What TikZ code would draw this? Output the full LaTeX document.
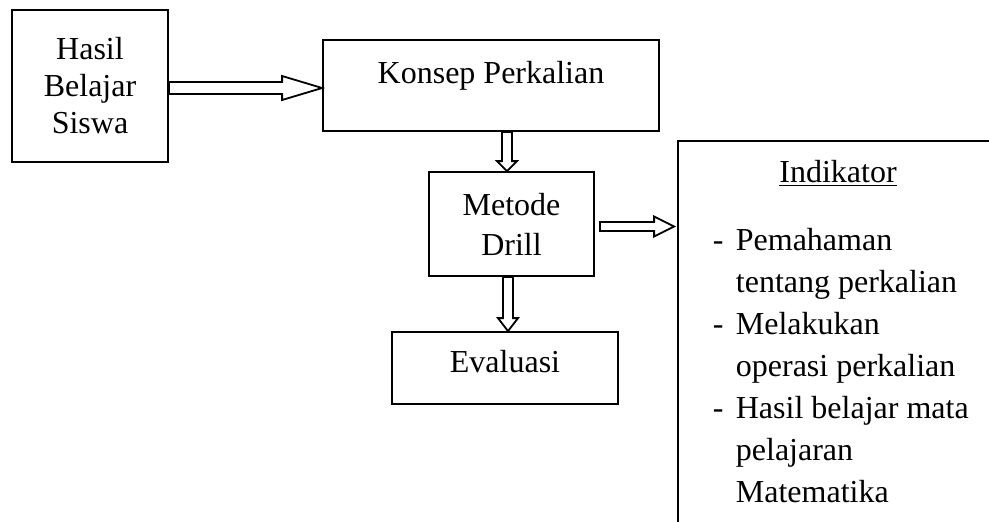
\documentclass[tikz,border=0pt]{standalone}
\usepackage{fontspec}
\setmainfont{Liberation Serif}
\usetikzlibrary{calc}

% hollow block arrows: from, to, head length, half shaft, half head
\newcommand{\fatright}[5]{%
  \draw[fill=white] let \p1=(#1), \p2=(#2) in
    (\x1,\y2+#4) -- (\x2-#3,\y2+#4) -- (\x2-#3,\y2+#5) -- (\x2,\y2)
    -- (\x2-#3,\y2-#5) -- (\x2-#3,\y2-#4) -- (\x1,\y2-#4) -- cycle;}
\newcommand{\fatdown}[5]{%
  \draw[fill=white] let \p1=(#1), \p2=(#2) in
    (\x2-#4,\y1) -- (\x2-#4,\y2+#3) -- (\x2-#5,\y2+#3) -- (\x2,\y2)
    -- (\x2+#5,\y2+#3) -- (\x2+#4,\y2+#3) -- (\x2+#4,\y1) -- cycle;}

\begin{document}
\begin{tikzpicture}[
        x=0.5pt, y=-0.5pt,
        line width=0.9pt,
        every node/.style={font=\fontsize{16}{18.5}\selectfont, inner sep=0pt},
        box/.style={draw, align=center}
    ]
        \useasboundingbox (0,0) rectangle (989,521);
        \node[box, minimum width=78pt, minimum height=76pt] (hasil) at (90,86) {Hasil\\Belajar\\Siswa};
        \node[box, minimum width=168pt, minimum height=45.5pt,
              text height=11pt, text depth=13.5pt] (konsep) at (491,85.5) {Konsep Perkalian};
        \node[box, minimum width=82.5pt, minimum height=52pt,
              font=\fontsize{16}{20}\selectfont] (drill) at (511.5,224) {Metode\\Drill};
        \node[box, minimum width=113pt, minimum height=36pt,
              text height=11pt, text depth=7pt] (eval) at (505,368) {Evaluasi};
        \begin{scope}
            \clip (0,0) rectangle (989,521);
            \node[draw, minimum width=161pt, minimum height=199.5pt] (ind) at (839,340.5) {};
        \end{scope}
        \node[anchor=base] (judul) at (838,182) {\underline{Indikator}};
        % base of a multi-line node = last line
        \node[anchor=base west, align=left, font=\fontsize{16}{21}\selectfont] (daftar) at (712,502)
            {\makebox[11.5pt][l]{-}Pemahaman\\
             \hspace*{11.5pt}tentang perkalian\\
             \makebox[11.5pt][l]{-}Melakukan\\
             \hspace*{11.5pt}operasi perkalian\\
             \makebox[11.5pt][l]{-}Hasil belajar mata\\
             \hspace*{11.5pt}pelajaran\\
             \hspace*{11.5pt}Matematika};
        \fatright{hasil.east}{$(konsep.west)+(0,2.5)$}{20pt}{3pt}{6pt}
        \fatdown{konsep.south}{$(drill.north)+(-4.5,0)$}{5pt}{2.5pt}{5pt}
        \fatdown{drill.south}{$(eval.north)+(3,0)$}{6.5pt}{2.5pt}{5pt}
        \fatright{$(drill.east)+(5,0)$}{$(drill.east -| ind.west)+(-3,2.5)$}{10pt}{2.25pt}{5pt}
\end{tikzpicture}
\end{document}
